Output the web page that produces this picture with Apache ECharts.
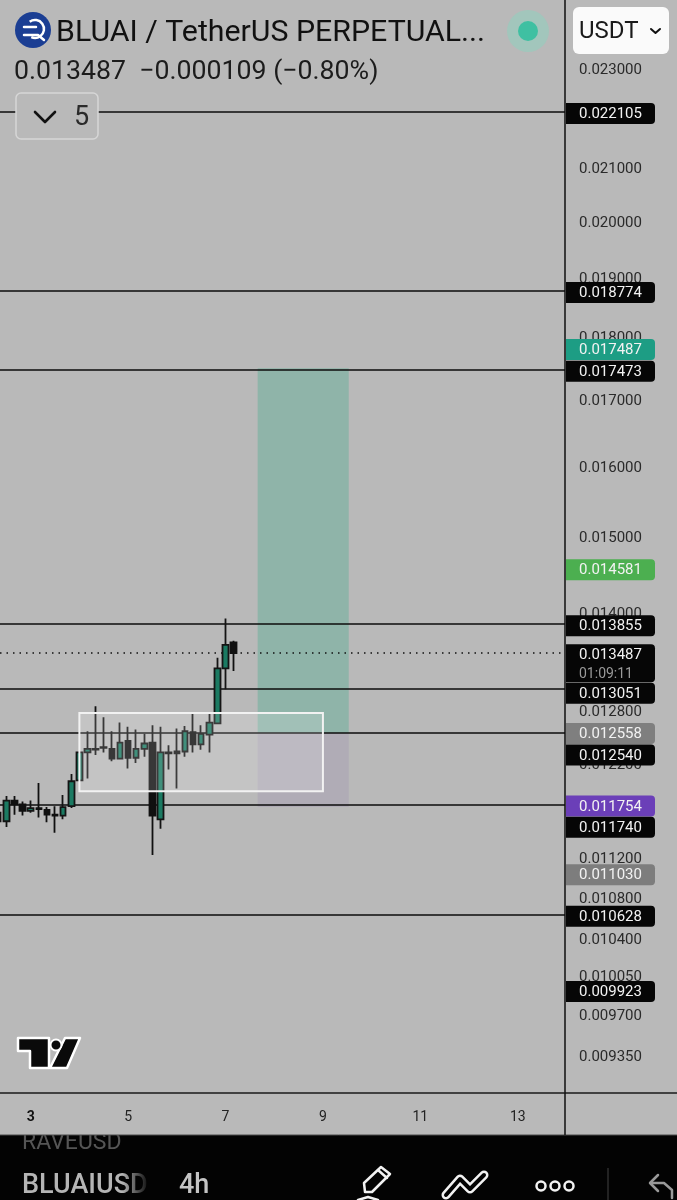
<!DOCTYPE html>
<html><head><meta charset="utf-8">
<style>html,body{margin:0;padding:0;background:#b9b9b9}#c{width:677px;height:1200px}</style>
<script src="https://cdn.jsdelivr.net/npm/echarts@6/dist/echarts.min.js"></script>
</head><body><div id="c"></div>
<script>
// x = day of month, candles every 4h: [day, open, close, low, high]
var candles = [
[2.333,.01166,.01157,.01151,.01171],
[2.5,.01157,.01179,.01151,.01184],
[2.667,.01179,.01175,.01164,.01184],
[2.833,.01175,.01168,.01163,.01178],
[3,.01168,.01171,.01166,.01179],
[3.167,.01171,.01170,.01161,.01198],
[3.333,.01169,.01164,.01156,.01172],
[3.5,.01164,.01163,.01145,.01173],
[3.667,.01163,.01172,.01159,.01185],
[3.833,.01173,.01200,.01171,.01208],
[4,.01201,.01232,.01200,.01233],
[4.167,.01232,.01236,.01203,.01256],
[4.333,.01236,.01235,.01229,.01285],
[4.5,.01238,.01237,.01232,.01272],
[4.667,.01236,.01225,.01222,.01256],
[4.833,.01225,.01243,.01225,.01266],
[5,.01245,.01226,.01214,.01261],
[5.167,.01226,.01236,.01220,.01258],
[5.333,.01236,.01242,.01227,.01253],
[5.5,.01243,.01163,.01122,.01263],
[5.667,.01159,.01232,.01149,.01261],
[5.833,.01232,.01231,.01213,.01240],
[6,.01231,.01233,.01192,.01259],
[6.167,.01233,.01256,.01227,.01262],
[6.333,.01255,.01241,.01232,.01277],
[6.5,.01241,.01253,.01235,.01263],
[6.667,.01252,.01266,.01232,.01278],
[6.833,.01265,.01330,.01264,.01343],
[7,.01330,.01359,.01305,.01392],
[7.167,.01362,.013487,.01327,.01364]
];
var levelPrices = [0.022105,0.018774,0.017473,0.013855,0.013051,0.01254,0.01174,0.010628];
var lastPrice = 0.013487;
var yTickValues = [0.023,0.021,0.02,0.019,0.018,0.017,0.016,0.015,0.014,0.0128,0.0122,0.0112,0.0108,0.0104,0.01005,0.0097,0.00935];
var xTickValues = [3,5,7,9,11,13];
var tagPrices = [0.022105,0.018774,0.017487,0.017473,0.014581,0.013855,0.013487,0.013051,0.012558,0.01254,0.011754,0.01174,0.01103,0.010628,0.009923];
var tagLabels = ['0.022105','0.018774','0.017487','0.017473','0.014581','0.013855','0.013487','0.013051','0.012558','0.012540','0.011754','0.011740','0.011030','0.010628','0.009923'];
var tagColors = ['#060606','#060606','#1d9d84','#060606','#4caf50','#060606','#060606','#060606','#7f7f7f','#060606','#6b3fb8','#060606','#7d7d7d','#060606','#060606'];
var tagShift  = [2,2,-19,2,2,2,10,4,2,22,2,22,1,2,2];
var countdown = '01:09:11';
var profitZone = [[7.66,9.53],[0.01254,0.01749]];
var lossZone   = [[7.66,9.53],[0.01172,0.01254]];
var boxZone    = [[4.0,9.0],[0.01189,0.01277]];

var XMIN=2.37, XMAX=13.97, YMIN=0.00903, YMAX=0.02447;
var font='Roboto, "Noto Sans", sans-serif';
var chart=echarts.init(document.getElementById('c'),null,{renderer:'canvas'});

function txt(x,y,s,size,fill,extra){
  var st={x:x,y:y,text:s,font:(extra&&extra.weight||'400')+' '+size+'px '+font,fill:fill,textVerticalAlign:'middle',textAlign:(extra&&extra.align)||'left'};
  return {type:'text',z:30,style:st};
}
function poly(pts,o){return {type:'polygon',z:o.z||30,shape:{points:pts},style:{fill:o.fill||null,stroke:o.stroke||null,lineWidth:o.lw||1,lineJoin:'round'}};}
function pline(pts,stroke,lw,z){return {type:'polyline',z:z||30,shape:{points:pts},style:{fill:null,stroke:stroke,lineWidth:lw,lineJoin:'round',lineCap:'round'}};}

var graphics=[
  // frame extras
  {type:'rect',z:20,shape:{x:0,y:1135,width:677,height:65},style:{fill:'#030303'}},
  {type:'line',z:21,shape:{x1:565,y1:1093,x2:565,y2:1135},style:{stroke:'#1a1a1a',lineWidth:1.6}},
  {type:'line',z:21,shape:{x1:565,y1:1093,x2:677,y2:1093},style:{stroke:'#1a1a1a',lineWidth:1.6}},
  // header
  {type:'circle',z:30,shape:{cx:33,cy:30,r:18},style:{fill:'#1b3e93'}},
  {type:'arc',z:31,shape:{cx:35,cy:29,r:9,startAngle:-2.2,endAngle:2.0},style:{stroke:'#fff',lineWidth:2.5,fill:null}},
  pline([[24,27],[36,27]],'#fff',2.5,31),
  pline([[24,35],[38,35],[44,40]],'#fff',2.5,31),
  txt(56,33,'BLUAI / TetherUS PERPETUAL...',30.3,'#111'),
  txt(14,72,'0.013487  \u22120.000109 (\u22120.80%)',26.7,'#1c1c1c'),
  {type:'circle',z:30,shape:{cx:528,cy:31,r:21},style:{fill:'#a2c6bc'}},
  {type:'circle',z:31,shape:{cx:528,cy:31,r:10},style:{fill:'#3fc0a2'}},
  {type:'rect',z:30,shape:{x:573,y:7,width:96,height:47,r:6},style:{fill:'#fafafa'}},
  txt(579,32,'USDT',24,'#1a1a1a'),
  pline([[651,29],[655.5,33],[660,29]],'#111',2,31),
  {type:'rect',z:30,shape:{x:16,y:93,width:82,height:46,r:5},style:{fill:'#b9b9b9',stroke:'#d6d6d6',lineWidth:1.5}},
  pline([[35,112],[45,122],[55,112]],'#111',2.6,31),
  txt(74,118,'5',27,'#2a2a2a'),
  // TradingView mark
  poly([[18,1038],[49,1038],[49,1068],[30,1068],[30,1051],[18,1051]],{fill:'#0a0a0a',stroke:'#fff',lw:2.5}),
  {type:'circle',z:31,shape:{cx:56,cy:1045,r:5.5},style:{fill:'#0a0a0a',stroke:'#fff',lineWidth:2}},
  poly([[65,1038],[80,1038],[67,1068],[50,1068]],{fill:'#0a0a0a',stroke:'#fff',lw:2.5}),
  // toolbar
  txt(22,1143,'RAVEUSD',23,'#555'),
  {type:'rect',z:31,shape:{x:0,y:1125,width:677,height:10},style:{fill:'#b9b9b9'}},
  {type:'line',z:32,shape:{x1:0,y1:1135,x2:677,y2:1135},style:{stroke:'#4a4a4a',lineWidth:1}},
  {type:'line',z:32,shape:{x1:565,y1:1125,x2:565,y2:1135},style:{stroke:'#1a1a1a',lineWidth:1.6}},
  txt(22,1186,'BLUAIUSD',27,'#b5b5b5',{weight:'500'}),
  {type:'rect',z:31,shape:{x:122,y:1165,width:28,height:35},style:{fill:{type:'linear',x:0,y:0,x2:1,y2:0,colorStops:[{offset:0,color:'rgba(3,3,3,0)'},{offset:1,color:'rgba(3,3,3,1)'}]}}},
  txt(179,1186,'4h',27,'#c4c4c4',{weight:'500'}),
  poly([[365,1192],[364,1183],[381,1167],[390,1174],[372,1192]],{stroke:'#f2f2f2',lw:2.5}),
  pline([[378,1170],[387,1178]],'#f2f2f2',2.5),
  pline([[358,1200],[368,1197],[378,1200]],'#f2f2f2',2.5),
  pline([[446,1195],[460,1179],[470,1189],[484,1175]],'#f2f2f2',9),
  pline([[446,1195],[460,1179],[470,1189],[484,1175]],'#030303',4,31),
  {type:'circle',z:30,shape:{cx:541,cy:1186,r:4.5},style:{stroke:'#f2f2f2',lineWidth:2.5,fill:null}},
  {type:'circle',z:30,shape:{cx:555,cy:1186,r:4.5},style:{stroke:'#f2f2f2',lineWidth:2.5,fill:null}},
  {type:'circle',z:30,shape:{cx:569,cy:1186,r:4.5},style:{stroke:'#f2f2f2',lineWidth:2.5,fill:null}},
  {type:'line',z:30,shape:{x1:608,y1:1168,x2:608,y2:1200},style:{stroke:'#2e2e2e',lineWidth:1.5}},
  pline([[658,1175],[650,1183],[658,1191]],'#9a9a9a',2.5),
  pline([[651,1183],[664,1183],[672,1190],[672,1198]],'#9a9a9a',2.5)
];

chart.setOption({
  animation:false,
  backgroundColor:'#b9b9b9',
  grid:{left:0,top:0,right:112,bottom:107,show:false},
  xAxis:{type:'value',min:XMIN,max:XMAX,splitLine:{show:false},
    axisLine:{show:true,onZero:false,lineStyle:{color:'#1a1a1a',width:1.6}},
    axisTick:{show:false},
    axisLabel:{customValues:xTickValues,margin:17,fontSize:14,color:'#222',fontFamily:font,hideOverlap:false,
      showMinLabel:true,showMaxLabel:true,
      formatter:function(v){return v===3?'{b|3}':String(v);},
      rich:{b:{fontWeight:'bold',fontSize:14,color:'#111',fontFamily:font}}}},
  yAxis:{type:'log',logBase:10,position:'right',min:YMIN,max:YMAX,splitLine:{show:false},minorSplitLine:{show:false},
    axisLine:{show:true,onZero:false,lineStyle:{color:'#1a1a1a',width:1.6}},
    axisTick:{show:false},
    axisLabel:{customValues:yTickValues,margin:14,hideOverlap:false,
      formatter:function(v){return '{t|'+Number(v).toFixed(6)+'}';},
      rich:{t:{fontSize:15,color:'#2a2a2a',fontFamily:font,padding:[4,0,0,0]}}}},
  graphic:{elements:graphics},
  series:[
    {type:'candlestick',z:2,barWidth:6,data:candles,encode:{x:0,y:[1,2,3,4]},silent:true,
      itemStyle:{color:'#1b7a62',color0:'#101010',borderColor:'#141414',borderColor0:'#101010',borderColorDoji:'#101010',borderWidth:1.8},
      markArea:{silent:true,z:1,precision:6,itemStyle:{borderWidth:0},data:[
        [{xAxis:profitZone[0][0],yAxis:profitZone[1][1],itemStyle:{color:'#8fb4a9'}},{xAxis:profitZone[0][1],yAxis:profitZone[1][0]}],
        [{xAxis:lossZone[0][0],yAxis:lossZone[1][1],itemStyle:{color:'#b0acb6'}},{xAxis:lossZone[0][1],yAxis:lossZone[1][0]}]
      ]},
      markLine:{silent:true,z:1.5,symbol:'none',precision:6,label:{show:false},animation:false,
        data:levelPrices.map(function(p){return {yAxis:p,lineStyle:{color:'#0d0d0d',width:1.5,type:'solid'}};})
          .concat([{yAxis:lastPrice,lineStyle:{color:'#111',width:1.5,type:[1.5,5]}}])}
    },
    {type:'line',z:6,data:[],silent:true,
      markArea:{silent:true,z:6,data:[[
        {xAxis:boxZone[0][0],yAxis:boxZone[1][1],itemStyle:{color:'rgba(255,255,255,0.17)',borderColor:'#f2f2f2',borderWidth:2}},
        {xAxis:boxZone[0][1],yAxis:boxZone[1][0]}]]}},
    {type:'custom',z:10,silent:true,clip:false,coordinateSystem:'cartesian2d',
      data:tagPrices.map(function(p){return [XMAX,p];}),encode:{x:0,y:1},
      renderItem:function(params,api){
        var i=params.dataIndex, pt=api.coord([api.value(0),api.value(1)]);
        var cy=pt[1]+tagShift[i], two=tagLabels[i]==='0.013487', h=two?38:21;
        var kids=[{type:'rect',shape:{x:pt[0]+1,y:cy-h/2,width:89,height:h,r:[0,4,4,0]},style:{fill:tagColors[i]}}];
        kids.push({type:'text',style:{x:pt[0]+14,y:(two?cy-9:cy)+1,text:tagLabels[i],font:'400 15px '+font,fill:'#f2f2f2',textVerticalAlign:'middle'}});
        if(two)kids.push({type:'text',style:{x:pt[0]+14,y:cy+11,text:countdown,font:'400 14px '+font,fill:'#9a9a9a',textVerticalAlign:'middle'}});
        return {type:'group',children:kids};
      }}
  ]
});
</script></body></html>
